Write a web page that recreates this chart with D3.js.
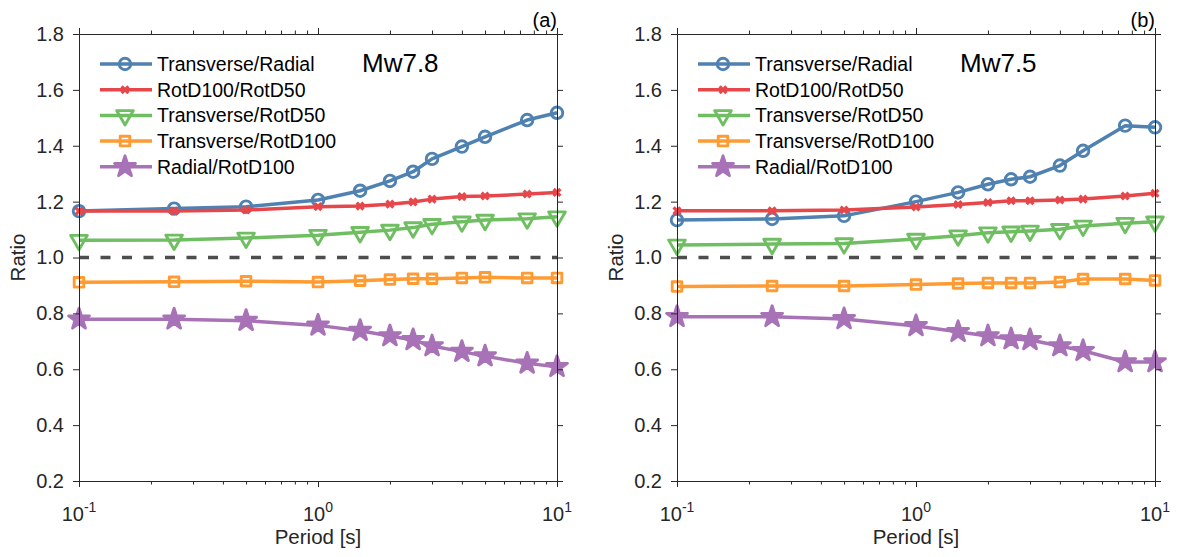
<!DOCTYPE html>
<html>
<head>
<meta charset="utf-8">
<script src="https://cdn.jsdelivr.net/npm/d3@7"></script>
<style>
  html, body { margin: 0; padding: 0; background: #fff; }
  svg { display: block; font-family: "Liberation Sans", Arial, Helvetica, sans-serif; }
</style>
</head>
<body>
<svg id="chart" width="1177" height="557"></svg>
<script>
// Periods (s) at which the component ratios are computed
const periods = [0.1, 0.25, 0.5, 1, 1.5, 2, 2.5, 3, 4, 5, 7.5, 10];

const seriesNames = ["Transverse/Radial", "RotD100/RotD50", "Transverse/RotD50", "Transverse/RotD100", "Radial/RotD100"];
const seriesColors = ["#4f81b1", "#e6474b", "#6fbe62", "#fe9b33", "#a872b7"];
const seriesMarkers = ["circle", "x", "triangle", "square", "star"];

// Mw7.8 event
const mw78TransverseRadial = [1.166, 1.175, 1.182, 1.206, 1.239, 1.274, 1.307, 1.353, 1.397, 1.432, 1.492, 1.518];
const mw78RotD100RotD50    = [1.166, 1.166, 1.170, 1.182, 1.184, 1.191, 1.199, 1.209, 1.218, 1.220, 1.227, 1.233];
const mw78TransverseRotD50 = [1.062, 1.063, 1.070, 1.080, 1.090, 1.098, 1.107, 1.119, 1.128, 1.134, 1.139, 1.146];
const mw78TransverseRotD100 = [0.911, 0.913, 0.915, 0.912, 0.917, 0.921, 0.924, 0.924, 0.927, 0.929, 0.927, 0.927];
const mw78RadialRotD100    = [0.779, 0.779, 0.774, 0.757, 0.738, 0.719, 0.705, 0.683, 0.663, 0.647, 0.621, 0.609];

// Mw7.5 event
const mw75TransverseRadial = [1.134, 1.138, 1.149, 1.200, 1.233, 1.262, 1.280, 1.289, 1.329, 1.382, 1.472, 1.466];
const mw75RotD100RotD50    = [1.167, 1.167, 1.170, 1.181, 1.190, 1.197, 1.203, 1.203, 1.206, 1.209, 1.220, 1.230];
const mw75TransverseRotD50 = [1.045, 1.048, 1.050, 1.066, 1.078, 1.089, 1.092, 1.095, 1.101, 1.113, 1.123, 1.128];
const mw75TransverseRotD100 = [0.896, 0.898, 0.898, 0.903, 0.907, 0.909, 0.909, 0.909, 0.912, 0.923, 0.923, 0.918];
const mw75RadialRotD100    = [0.788, 0.788, 0.780, 0.755, 0.734, 0.719, 0.708, 0.705, 0.683, 0.666, 0.626, 0.626];

const yTicks = [0.2, 0.4, 0.6, 0.8, 1.0, 1.2, 1.4, 1.6, 1.8];
const xMajorTicks = [0.1, 1, 10];
const xMinorTicks = [0.2, 0.3, 0.4, 0.5, 0.6, 0.7, 0.8, 0.9, 2, 3, 4, 5, 6, 7, 8, 9];
const xTickExponents = ["-1", "0", "1"];
const referenceRatio = 1.0;

const panels = [
  { tag: "(a)", title: "Mw7.8", left: 79,
    series: [mw78TransverseRadial, mw78RotD100RotD50, mw78TransverseRotD50, mw78TransverseRotD100, mw78RadialRotD100] },
  { tag: "(b)", title: "Mw7.5", left: 677,
    series: [mw75TransverseRadial, mw75RotD100RotD50, mw75TransverseRotD50, mw75TransverseRotD100, mw75RadialRotD100] }
];

const plotW = 478, plotH = 447, plotTop = 34;
const axisColor = "#262626";
const svg = d3.select("#chart");

const x = d3.scaleLog().domain([0.1, 10]).range([0, plotW]);
const y = d3.scaleLinear().domain([0.2, 1.8]).range([plotH, 0]);

function markerPath(kind) {
  switch (kind) {
    case "circle":   return d3.symbol(d3.symbolCircle, 105)();
    case "x":        return d3.symbol(d3.symbolX, 32)();
    case "triangle": return d3.symbol(d3.symbolTriangle, 120)();
    case "square":   return d3.symbol(d3.symbolSquare, 92)();
    case "star":     return d3.symbol(d3.symbolStar, 135)();
  }
}

function drawMarker(sel, kind, color) {
  const p = sel.append("path")
    .attr("d", markerPath(kind))
    .attr("stroke", color)
    .attr("stroke-width", kind === "x" ? 3.2 : 2.9)
    .attr("stroke-linejoin", "round")
    .attr("fill", kind === "star" ? color : "none");
  if (kind === "triangle") p.attr("transform", "rotate(180)");
  return p;
}

function styleAxis(g) {
  g.selectAll("path.domain").attr("stroke", axisColor).attr("stroke-width", 1);
  g.selectAll(".tick line").attr("stroke", axisColor).attr("stroke-width", 1);
  g.selectAll(".tick text").attr("fill", axisColor);
}

panels.forEach(panel => {
  const g = svg.append("g").attr("transform", `translate(${panel.left},${plotTop})`);

  // Reference line at ratio 1
  g.append("line")
    .attr("x1", 0).attr("x2", plotW)
    .attr("y1", y(referenceRatio)).attr("y2", y(referenceRatio))
    .attr("stroke", "#4d4d4d").attr("stroke-width", 3.5)
    .attr("stroke-dasharray", "10,11.5");

  // Series lines and markers
  panel.series.forEach((vals, i) => {
    const color = seriesColors[i];
    const pts = periods.map((p, k) => [p, vals[k]]);
    g.append("path")
      .datum(pts)
      .attr("fill", "none")
      .attr("stroke", color)
      .attr("stroke-width", 3.5)
      .attr("stroke-linejoin", "round")
      .attr("d", d3.line().x(d => x(d[0])).y(d => y(d[1])));
    const mg = g.append("g");
    pts.forEach(d => {
      const m = mg.append("g").attr("transform", `translate(${x(d[0])},${y(d[1])})`);
      drawMarker(m, seriesMarkers[i], color);
    });
  });

  // Axes: ticks point outward on all four sides
  const yLeft = g.append("g")
    .call(d3.axisLeft(y).tickValues(yTicks).tickSize(6).tickSizeOuter(0).tickPadding(9).tickFormat(d3.format(".1f")));
  yLeft.selectAll(".tick text").attr("font-size", 20);
  styleAxis(yLeft);

  const yRight = g.append("g").attr("transform", `translate(${plotW},0)`)
    .call(d3.axisRight(y).tickValues(yTicks).tickSize(6).tickSizeOuter(0).tickFormat(""));
  styleAxis(yRight);

  const xBottom = g.append("g").attr("transform", `translate(0,${plotH})`)
    .call(d3.axisBottom(x).tickValues(xMajorTicks).tickSize(6).tickSizeOuter(0).tickFormat(""));
  styleAxis(xBottom);
  const xBottomMinor = g.append("g").attr("transform", `translate(0,${plotH})`)
    .call(d3.axisBottom(x).tickValues(xMinorTicks).tickSize(3.5).tickSizeOuter(0).tickFormat(""));
  styleAxis(xBottomMinor);

  const xTop = g.append("g")
    .call(d3.axisTop(x).tickValues(xMajorTicks).tickSize(6).tickSizeOuter(0).tickFormat(""));
  styleAxis(xTop);
  const xTopMinor = g.append("g")
    .call(d3.axisTop(x).tickValues(xMinorTicks).tickSize(3.5).tickSizeOuter(0).tickFormat(""));
  styleAxis(xTopMinor);

  // Power-of-ten tick labels
  xMajorTicks.forEach((t, i) => {
    const txt = g.append("text")
      .attr("x", x(t)).attr("y", plotH + 40)
      .attr("text-anchor", "middle")
      .attr("fill", axisColor)
      .attr("font-size", 20);
    txt.append("tspan").text("10");
    txt.append("tspan").attr("dy", -9).attr("font-size", 14).text(xTickExponents[i]);
  });

  // Axis titles
  g.append("text")
    .attr("x", plotW / 2).attr("y", plotH + 63)
    .attr("text-anchor", "middle").attr("fill", axisColor).attr("font-size", 20.5)
    .text("Period [s]");
  g.append("text")
    .attr("transform", `translate(-54,${plotH / 2}) rotate(-90)`)
    .attr("text-anchor", "middle").attr("fill", axisColor).attr("font-size", 20.5)
    .text("Ratio");

  // Panel tag and event title
  g.append("text")
    .attr("x", plotW).attr("y", -7)
    .attr("text-anchor", "end").attr("fill", "#000").attr("font-size", 20)
    .text(panel.tag);
  g.append("text")
    .attr("x", 283).attr("y", 38)
    .attr("fill", "#000").attr("font-size", 26)
    .text(panel.title);

  // Legend
  const lg = g.append("g").attr("transform", "translate(21,30)");
  seriesNames.forEach((name, i) => {
    const row = lg.append("g").attr("transform", `translate(0,${i * 25.7})`);
    row.append("line").attr("x1", 0).attr("x2", 52).attr("y1", 0).attr("y2", 0)
      .attr("stroke", seriesColors[i]).attr("stroke-width", 3.5);
    const m = row.append("g").attr("transform", "translate(25,0)");
    drawMarker(m, seriesMarkers[i], seriesColors[i]);
    row.append("text").attr("x", 57).attr("y", 0)
      .attr("dy", "0.36em")
      .attr("fill", "#000").attr("font-size", 19.5)
      .text(name);
  });
});
</script>
</body>
</html>
